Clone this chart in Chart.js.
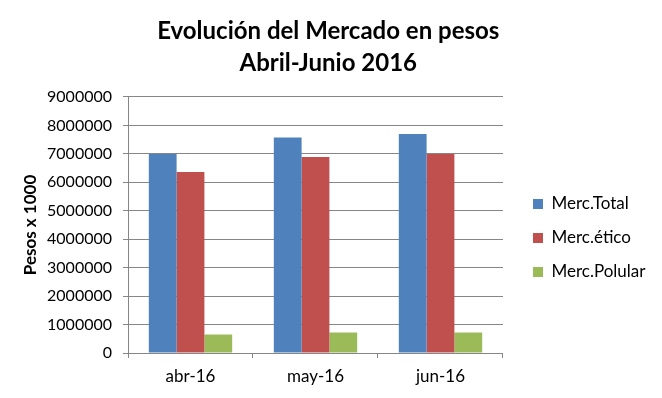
<!DOCTYPE html>
<html>
<head>
<meta charset="utf-8">
<script src="https://cdn.jsdelivr.net/npm/chart.js@4.4.0/dist/chart.umd.min.js"></script>
<style>
  body { margin: 0; background: #fff; }
</style>
</head>
<body>
<canvas id="myChart" width="662" height="398"></canvas>
<script>
// data
const categories = ['abr-16', 'may-16', 'jun-16'];
const seriesNames = ['Merc.Total', 'Merc.ético', 'Merc.Polular'];
const mercTotal = [7000000, 7580000, 7700000];
const mercEtico = [6360000, 6890000, 7000000];
const mercPopular = [650000, 720000, 720000];
const yMin = 0;
const yMax = 9000000;
const yStep = 1000000;
const titleLines = ['Evolución del Mercado en pesos', 'Abril-Junio 2016'];
const yTitle = 'Pesos x 1000';

const colors = ['#4F81BD', '#C0504D', '#9BBB59'];
const gridGray = '#868686';

Chart.defaults.font.family = 'Lato';
Chart.defaults.color = '#000';

// move the legend a bit away from the plot and down, like Excel places it
const legendOffset = {
  id: 'legendOffset',
  afterLayout(chart) {
    const lg = chart.legend;
    lg.left += 13;
    lg.right += 13;
    lg.top += 39;
    lg.bottom += 39;
  }
};

function drawChart() {
  const ctx = document.getElementById('myChart').getContext('2d');
  new Chart(ctx, {
    type: 'bar',
    data: {
      labels: categories,
      datasets: [mercTotal, mercEtico, mercPopular].map((d, i) => ({
        label: seriesNames[i],
        data: d,
        backgroundColor: colors[i],
        borderWidth: 0,
        categoryPercentage: 0.667,
        barPercentage: 1
      }))
    },
    options: {
      responsive: false,
      animation: false,
      layout: { padding: { left: 14, right: 19.5 } },
      scales: {
        x: {
          grid: { drawOnChartArea: false, offset: true, color: gridGray, tickLength: 5 },
          border: { color: gridGray },
          ticks: { font: { size: 17 }, padding: 8, color: '#000' },
          afterFit: (s) => { s.height = 45; }
        },
        y: {
          min: yMin,
          max: yMax,
          ticks: { stepSize: yStep, font: { size: 16 }, padding: 11, color: '#000', callback: (v) => String(v) },
          grid: { color: gridGray, tickLength: 5 },
          border: { color: gridGray },
          title: { display: true, text: yTitle, color: '#000', font: { size: 17, weight: 'bold' }, padding: { top: 6, bottom: 0 } },
          afterFit: (s) => { s.width = 114; }
        }
      },
      plugins: {
        title: {
          display: true,
          text: titleLines,
          color: '#000',
          font: { size: 24, weight: 'bold', lineHeight: 1.333 },
          padding: { top: 15, bottom: 18 }
        },
        legend: {
          position: 'right',
          align: 'center',
          labels: { boxWidth: 10, boxHeight: 10, padding: 17, font: { size: 17 }, color: '#000' }
        },
        tooltip: { enabled: false }
      }
    },
    plugins: [legendOffset]
  });
}

Promise.all([
  document.fonts.load('bold 24px Lato'),
  document.fonts.load('16px Lato')
]).then(drawChart, drawChart);
</script>
</body>
</html>
